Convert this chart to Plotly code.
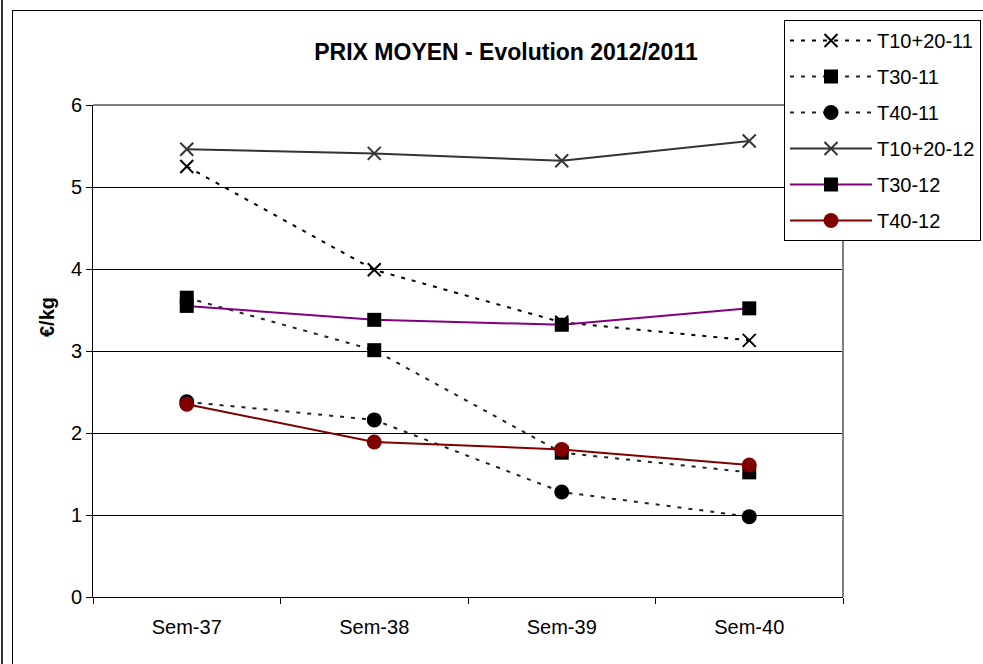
import plotly.graph_objects as go

categories = ["Sem-37", "Sem-38", "Sem-39", "Sem-40"]

t1020_11 = [5.25, 3.99, 3.35, 3.13]
t30_11 = [3.65, 3.01, 1.76, 1.52]
t40_11 = [2.38, 2.16, 1.28, 0.98]
t1020_12 = [5.46, 5.41, 5.32, 5.56]
t30_12 = [3.55, 3.38, 3.32, 3.52]
t40_12 = [2.35, 1.89, 1.80, 1.61]

y_ticks = [0, 1, 2, 3, 4, 5, 6]

FONT = "Liberation Sans, Arial, sans-serif"
W, H = 983, 664
L, R, T, B = 93, 843, 105, 597

def px(x):
    return (x - L) / (R - L)

def py(y):
    return (B - y) / (B - T)

series = [
    ("T10+20-11", t1020_11, "#000000", "dot", "x-thin", 13, "#000000"),
    ("T30-11", t30_11, "#222222", "dot", "square", 14, "#000000"),
    ("T40-11", t40_11, "#222222", "dot", "circle", 15, "#000000"),
    ("T10+20-12", t1020_12, "#333333", "solid", "x-thin", 13, "#333333"),
    ("T30-12", t30_12, "#800080", "solid", "square", 14, "#000000"),
    ("T40-12", t40_12, "#800000", "solid", "circle", 15, "#800000"),
]

fig = go.Figure()
for i, (name, vals, lc, dash, sym, size, mc) in enumerate(series):
    d = "4px,7px" if dash == "dot" else "solid"
    if sym == "x-thin":
        marker = dict(symbol=sym, size=size, color=mc, line=dict(color=mc, width=2))
    else:
        marker = dict(symbol=sym, size=size, color=mc, line=dict(width=0))
    fig.add_trace(go.Scatter(
        x=categories, y=vals, name=name, mode="lines+markers",
        line=dict(color=lc, width=2, dash=d),
        marker=marker, legendgroup=f"g{i}",
    ))

shapes = [
    dict(type="line", xref="paper", yref="paper", x0=px(12), x1=px(990), y0=py(10.5), y1=py(10.5),
         line=dict(color="#000000", width=1)),
    dict(type="line", xref="paper", yref="paper", x0=px(12.5), x1=px(12.5), y0=py(10), y1=py(670),
         line=dict(color="#000000", width=1)),
    dict(type="line", xref="paper", yref="paper", x0=px(2), x1=px(2), y0=py(-5), y1=py(670),
         line=dict(color="#333333", width=2)),
    dict(type="line", xref="paper", yref="paper", x0=0, x1=1, y0=1, y1=1,
         line=dict(color="#808080", width=2)),
    dict(type="line", xref="paper", yref="paper", x0=1, x1=1, y0=0, y1=1,
         line=dict(color="#808080", width=2)),
]

fig.update_layout(
    width=W, height=H,
    margin=dict(l=L, r=W - R, t=T, b=H - B, autoexpand=False),
    paper_bgcolor="white", plot_bgcolor="white",
    font=dict(family=FONT, size=20, color="#000000"),
    title=dict(text="<b>PRIX MOYEN - Evolution 2012/2011</b>", x=506 / W, xref="container",
               xanchor="center", y=1 - 52 / H, yanchor="middle",
               font=dict(size=23, family=FONT, color="#000000")),
    xaxis=dict(type="category", range=[-0.5, 3.5], showgrid=False, showline=True,
               linecolor="#000000", linewidth=1, ticks="outside", ticklen=6, tickcolor="#000000",
               tickson="boundaries", tickfont=dict(size=20, family=FONT), zeroline=False,
               ticklabelstandoff=12),
    yaxis=dict(range=[0, 6], tickvals=y_ticks, showgrid=True, gridcolor="#000000", gridwidth=1,
               showline=True, linecolor="#000000", linewidth=1, ticks="outside", ticklen=6,
               tickcolor="#000000", tickfont=dict(size=20, family=FONT), zeroline=False),
    showlegend=True,
    legend=dict(x=px(784), y=py(20), xanchor="left", yanchor="top", bgcolor="white",
                bordercolor="#000000", borderwidth=1, font=dict(size=20, family=FONT),
                itemwidth=82, traceorder="grouped", tracegroupgap=7),
    shapes=shapes,
    annotations=[dict(text="<b>€/kg</b>", xref="paper", yref="paper", x=px(47), y=py(317),
                      xanchor="center", yanchor="middle",
                      showarrow=False, textangle=-90, font=dict(size=20, family=FONT))],
)

fig.write_html("out.html", config={"displayModeBar": False},
               post_script="document.body.style.margin='0px';")
